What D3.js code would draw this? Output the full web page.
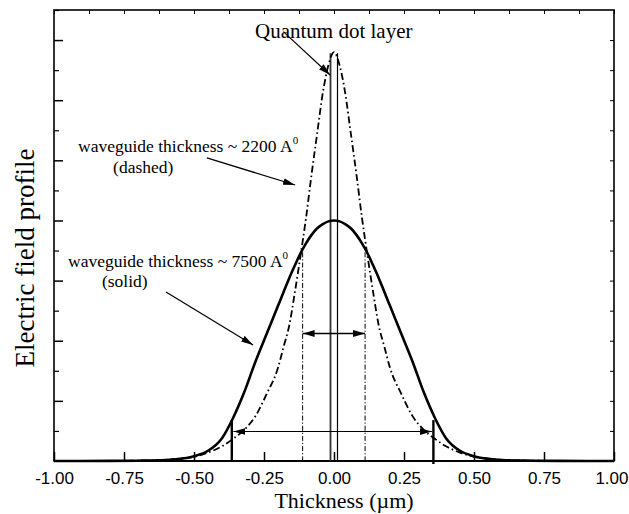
<!DOCTYPE html>
<html>
<head>
<meta charset="utf-8">
<script src="https://cdn.jsdelivr.net/npm/d3@7"></script>
<style>
  html, body { margin: 0; padding: 0; background: #fff; }
  svg { display: block; }
  .serif { font-family: "Liberation Serif", "Times New Roman", serif; fill: #000; }
  .sans { font-family: "Liberation Sans", Arial, sans-serif; fill: #000; }
</style>
</head>
<body>
<svg id="chart" width="629" height="514"></svg>
<script>
// Position across the waveguide (µm) where the field profiles are sampled
const thickness = [-1.00, -0.80, -0.70, -0.60, -0.55, -0.50, -0.45, -0.40, -0.36, -0.32, -0.28, -0.24,
  -0.20, -0.18, -0.16, -0.14, -0.12, -0.10, -0.08, -0.06, -0.04, -0.02, 0.00,
  0.02, 0.04, 0.06, 0.08, 0.10, 0.12, 0.14, 0.16, 0.18, 0.20,
  0.24, 0.28, 0.32, 0.36, 0.40, 0.45, 0.50, 0.55, 0.60, 0.70, 0.80, 1.00];

// Field profile for the 7500 A waveguide (solid)
const fieldThick = [0.000, 0.002, 0.005, 0.015, 0.035, 0.080, 0.170, 0.380, 0.720, 1.150, 1.660, 2.120,
  2.580, 2.810, 3.040, 3.250, 3.450, 3.620, 3.760, 3.870, 3.940, 3.985, 4.000,
  3.985, 3.940, 3.870, 3.760, 3.620, 3.450, 3.250, 3.040, 2.810, 2.580,
  2.120, 1.660, 1.150, 0.720, 0.380, 0.170, 0.080, 0.035, 0.015, 0.005, 0.002, 0.000];

// Field profile for the 2200 A waveguide (dash-dot)
const fieldThin = [0.000, 0.002, 0.006, 0.020, 0.038, 0.070, 0.140, 0.245, 0.370, 0.520, 0.750, 1.120,
  1.550, 1.900, 2.250, 2.800, 3.400, 4.040, 4.770, 5.450, 6.120, 6.580, 6.800,
  6.580, 6.120, 5.450, 4.770, 4.040, 3.400, 2.800, 2.250, 1.900, 1.550,
  1.120, 0.750, 0.520, 0.370, 0.245, 0.140, 0.070, 0.038, 0.020, 0.006, 0.002, 0.000];

// Axis ticks
const xTickValues = [-1.00, -0.75, -0.50, -0.25, 0.00, 0.25, 0.50, 0.75, 1.00];
const xTickLabels = ["-1.00", "-0.75", "-0.50", "-0.25", "0.00", "0.25", "0.50", "0.75", "1.00"];
const xMinorTicks = d3.range(-1, 1.0001, 0.125);
const yMajorTicks = [1, 2, 3, 4, 5, 6, 7];
const yMinorTicks = d3.range(0.5, 7.51, 1);
const yRightTicks = d3.range(0.5, 7.01, 0.5);

// Annotation geometry, in data units
const dotLayerEdges = [-0.0125, 0.0125];
const dotLayerTop = 6.78;
const thickWidthEdges = [-0.365, 0.355];
const thickWidthLevel = 0.49;
const thickWidthTop = 0.68;
const thinWidthEdges = [-0.112, 0.111];
const thinWidthLevel = 2.12;
const thinWidthTop = 3.47;

const svg = d3.select("#chart");
const plot = { left: 54, right: 614, top: 10, bottom: 461 };

const x = d3.scaleLinear().domain([-1, 1]).range([plot.left, plot.right]);
const y = d3.scaleLinear().domain([0, 7.5]).range([plot.bottom, plot.top]);

// Arrowhead marker
const defs = svg.append("defs");
defs.append("marker")
  .attr("id", "head")
  .attr("viewBox", "0 0 12 8")
  .attr("refX", 12).attr("refY", 4)
  .attr("markerWidth", 12).attr("markerHeight", 8)
  .attr("markerUnits", "userSpaceOnUse")
  .attr("orient", "auto-start-reverse")
  .append("path").attr("d", "M0,0.6 L12,4 L0,7.4 Z").attr("fill", "#000");

// Frame ticks (all pointing inward)
const bottomAxis = d3.axisBottom(x).tickValues(xTickValues)
  .tickSize(-9).tickPadding(11)
  .tickFormat((d, i) => xTickLabels[i]);
const gx = svg.append("g").attr("transform", `translate(0,${plot.bottom})`).call(bottomAxis);
gx.select(".domain").remove();
gx.selectAll(".tick line").attr("stroke", "#000").attr("stroke-width", 1.5);
gx.selectAll(".tick text").attr("class", "sans").style("font-size", "17px");
// keep the last label inside the page edge
gx.selectAll(".tick text").filter(d => d === 1).attr("text-anchor", "end").attr("x", 14);

const gTop = svg.append("g").attr("transform", `translate(0,${plot.top})`)
  .call(d3.axisTop(x).tickValues(xMinorTicks).tickSize(-4).tickFormat(""));
gTop.select(".domain").remove();
gTop.selectAll(".tick line").attr("stroke", "#000").attr("stroke-width", 1);

const gLeft = svg.append("g").attr("transform", `translate(${plot.left},0)`)
  .call(d3.axisLeft(y).tickValues(yMajorTicks).tickSize(-9).tickFormat(""));
gLeft.select(".domain").remove();
gLeft.selectAll(".tick line").attr("stroke", "#000").attr("stroke-width", 1.5);

const gLeftMinor = svg.append("g").attr("transform", `translate(${plot.left},0)`)
  .call(d3.axisLeft(y).tickValues(yMinorTicks).tickSize(-5).tickFormat(""));
gLeftMinor.select(".domain").remove();
gLeftMinor.selectAll(".tick line").attr("stroke", "#000").attr("stroke-width", 1.2);

const gRight = svg.append("g").attr("transform", `translate(${plot.right},0)`)
  .call(d3.axisRight(y).tickValues(yRightTicks).tickSize(-4).tickFormat(""));
gRight.select(".domain").remove();
gRight.selectAll(".tick line").attr("stroke", "#000").attr("stroke-width", 1);

// Plot frame
svg.append("rect")
  .attr("x", plot.left).attr("y", plot.top)
  .attr("width", plot.right - plot.left).attr("height", plot.bottom - plot.top)
  .attr("fill", "none").attr("stroke", "#000").attr("stroke-width", 1.6);
svg.append("line")
  .attr("x1", plot.left).attr("x2", plot.right)
  .attr("y1", plot.bottom).attr("y2", plot.bottom)
  .attr("stroke", "#000").attr("stroke-width", 2.2);

// Quantum dot layer: two thin vertical lines
svg.append("g").selectAll("line").data(dotLayerEdges).join("line")
  .attr("x1", d => x(d)).attr("x2", d => x(d))
  .attr("y1", y(dotLayerTop)).attr("y2", y(0))
  .attr("stroke", (d, i) => i === 0 ? "#333" : "#000")
  .attr("stroke-width", (d, i) => i === 0 ? 1.8 : 1.2);

// Field profiles
const line = d3.line()
  .x((d, i) => x(thickness[i]))
  .y(d => y(d))
  .curve(d3.curveMonotoneX);

svg.append("path").datum(fieldThin)
  .attr("d", line)
  .attr("fill", "none").attr("stroke", "#000")
  .attr("stroke-width", 1.8)
  .attr("stroke-dasharray", "7,3,1.6,3");

svg.append("path").datum(fieldThick)
  .attr("d", line)
  .attr("fill", "none").attr("stroke", "#000")
  .attr("stroke-width", 2.6);

// Width markers for the thin waveguide: dash-dot verticals and a double arrow
svg.append("g").selectAll("line").data(thinWidthEdges).join("line")
  .attr("x1", d => x(d)).attr("x2", d => x(d))
  .attr("y1", y(thinWidthTop)).attr("y2", y(0))
  .attr("stroke", "#000").attr("stroke-width", 1)
  .attr("stroke-dasharray", "5,2,1.2,2");

svg.append("line")
  .attr("x1", x(thinWidthEdges[0])).attr("x2", x(thinWidthEdges[1]))
  .attr("y1", y(thinWidthLevel)).attr("y2", y(thinWidthLevel))
  .attr("stroke", "#000").attr("stroke-width", 1.6)
  .attr("marker-start", "url(#head)").attr("marker-end", "url(#head)");

// Width markers for the thick waveguide: solid verticals and a double arrow
svg.append("g").selectAll("line").data(thickWidthEdges).join("line")
  .attr("x1", d => x(d)).attr("x2", d => x(d))
  .attr("y1", y(thickWidthTop)).attr("y2", (d, i) => y(0) + (i === 1 ? 3 : 0))
  .attr("stroke", "#000").attr("stroke-width", 2.4);

svg.append("line")
  .attr("x1", x(thickWidthEdges[0]) + 1.5).attr("x2", x(thickWidthEdges[1]) - 1.5)
  .attr("y1", y(thickWidthLevel)).attr("y2", y(thickWidthLevel))
  .attr("stroke", "#000").attr("stroke-width", 1.1)
  .attr("marker-start", "url(#head)").attr("marker-end", "url(#head)");

// Annotations
function arrow(from, to) {
  svg.append("line")
    .attr("x1", x(from[0])).attr("y1", y(from[1]))
    .attr("x2", x(to[0])).attr("y2", y(to[1]))
    .attr("stroke", "#000").attr("stroke-width", 1.2)
    .attr("marker-end", "url(#head)");
}

svg.append("text").attr("class", "serif")
  .attr("x", x(-0.282)).attr("y", y(7.03))
  .style("font-size", "21px")
  .text("Quantum dot layer");
arrow([-0.181, 7.14], [-0.014, 6.42]);

const t1 = svg.append("text").attr("class", "serif")
  .attr("x", x(-0.914)).attr("y", y(5.14))
  .style("font-size", "17.5px");
t1.append("tspan").text("waveguide thickness ~ 2200 A");
t1.append("tspan").attr("dy", -8).style("font-size", "11px").text("0");
svg.append("text").attr("class", "serif")
  .attr("x", x(-0.789)).attr("y", y(4.79))
  .style("font-size", "17.5px")
  .text("(dashed)");
arrow([-0.454, 5.04], [-0.139, 4.59]);

const t2 = svg.append("text").attr("class", "serif")
  .attr("x", x(-0.95)).attr("y", y(3.23))
  .style("font-size", "17.5px");
t2.append("tspan").text("waveguide thickness ~ 7500 A");
t2.append("tspan").attr("dy", -8).style("font-size", "11px").text("0");
svg.append("text").attr("class", "serif")
  .attr("x", x(-0.829)).attr("y", y(2.89))
  .style("font-size", "17.5px")
  .text("(solid)");
arrow([-0.60, 2.81], [-0.289, 1.93]);

// Axis titles
svg.append("text").attr("class", "serif")
  .attr("x", 344).attr("y", 508)
  .attr("text-anchor", "middle")
  .style("font-size", "22px")
  .text("Thickness (\u00b5m)");

svg.append("text").attr("class", "serif")
  .attr("transform", "translate(34,258) rotate(-90)")
  .attr("text-anchor", "middle")
  .style("font-size", "27px")
  .text("Electric field profile");
</script>
</body>
</html>
